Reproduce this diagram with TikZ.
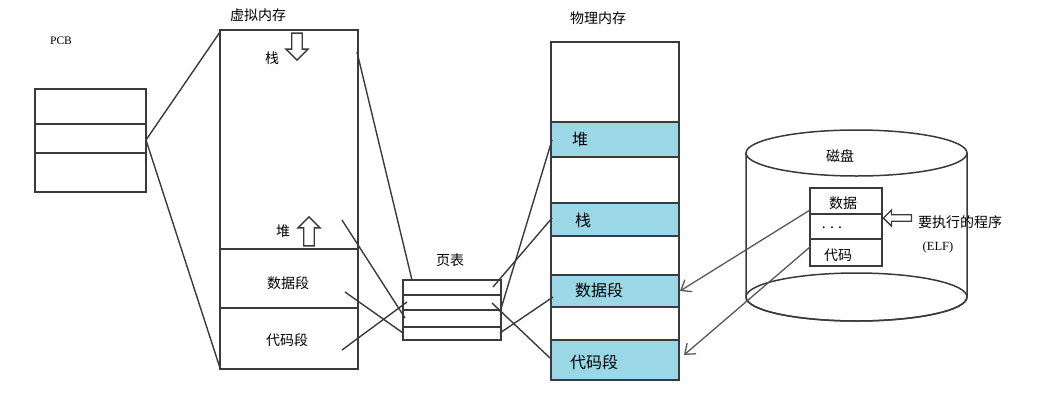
\documentclass[tikz,border=0pt]{standalone}
\usepackage{fontspec}
\setmainfont{Liberation Serif}
\newfontfamily\cjk{Noto Sans CJK SC}
\usetikzlibrary{shapes.arrows,arrows.meta}
\definecolor{seg}{HTML}{9AD8E8}
\definecolor{ink}{HTML}{3A3A3A}
\tikzset{
  box/.style={draw=ink, line width=1.5pt},
  div/.style={draw=ink, line width=1.5pt},
  link/.style={draw=ink, line width=1.4pt},
  lbl/.style={font=\cjk\fontsize{14}{16}\selectfont, inner sep=0pt},
  blbl/.style={font=\cjk\fontsize{16}{18}\selectfont, inner sep=0pt},
  hollow/.style={single arrow, draw=ink, line width=1.3pt, fill=white, inner sep=3pt, minimum width=22pt, single arrow head extend=4pt},
  load/.style={draw=ink!85, line width=1.3pt, -{Straight Barb[length=9pt,width=14pt]}}
}
\begin{document}
\begin{tikzpicture}[x=1pt,y=-1pt]
\useasboundingbox (0,0) rectangle (1044,408);
% PCB
\node[font=\fontsize{11.5}{13}\selectfont, inner sep=0pt] (pcbl) at (61,41) {PCB};
\draw[box] (35,89) rectangle (146,192);
\draw[div] (35,124) -- (146,124);
\draw[div] (35,153) -- (146,153);
\coordinate (pcb) at (146,140);
% virtual memory
\node[lbl] (vml) at (258,15) {虚拟内存};
\draw[box] (220,30) rectangle (358,369);
\coordinate (vtl) at (220,32);
\coordinate (vbl) at (220,368);
\draw[div] (220,249) -- (358,249);
\draw[div] (220,308) -- (358,308);
\node[lbl] (vstack) at (272,58) {栈};
\node[hollow, rotate=-90, minimum height=27pt] (adown) at (297,44) {};
\node[lbl] (vheap) at (283,231) {堆};
\node[hollow, rotate=90, minimum height=29pt] (aup) at (309,234) {};
\node[lbl] (vdata) at (288,283) {数据段};
\node[lbl] (vcode) at (287,340) {代码段};
\draw[link] (pcb) -- (vtl);
\draw[link] (pcb) -- (vbl);
% page table
\node[lbl] (ptl) at (450,260) {页表};
\draw[box] (403,280) rectangle (501,340);
\draw[div] (403,295) -- (501,295);
\draw[div] (403,310) -- (501,310);
\draw[div] (403,327) -- (501,327);
% physical memory
\node[lbl] (pml) at (598,18) {物理内存};
\fill[seg] (551,122) rectangle (679,157);
\fill[seg] (551,203) rectangle (679,236);
\fill[seg] (551,275) rectangle (679,307);
\fill[seg] (551,340) rectangle (679,380);
\draw[box] (551,42) rectangle (679,380);
\foreach \yy in {122,157,203,236,275,307,340} \draw[div] (551,\yy) -- (679,\yy);
\node[blbl] (pheap) at (580,139) {堆};
\node[blbl] (pstack) at (583,220) {栈};
\node[blbl] (pdata) at (599,290) {数据段};
\node[blbl] (pcode) at (594,362) {代码段};
% link coordinates
\coordinate (s1) at (357,52);
\coordinate (s2) at (342,220);
\coordinate (s3) at (345,292);
\coordinate (s4) at (342,350);
\coordinate (p1) at (412,280);
\coordinate (p3) at (405,318);
\coordinate (p4) at (403,333);
\coordinate (p2) at (407,302);
\coordinate (q1) at (493,287);
\coordinate (q3) at (500,312);
\coordinate (q4) at (500,333);
\coordinate (q2) at (492,303);
\coordinate (m1) at (552,218);
\coordinate (m3) at (552,140);
\coordinate (m4) at (553,297);
\coordinate (m2) at (550,358);
\draw[link] (s1) -- (p1);
\draw[link] (s2) -- (p3);
\draw[link] (s3) -- (p4);
\draw[link] (s4) -- (p2);
\draw[link] (q1) -- (m1);
\draw[link] (q3) -- (m3);
\draw[link] (q4) -- (m4);
\draw[link] (q2) -- (m2);
% disk
\draw[box, fill=white] (746,153) -- (746,297) arc[start angle=180, end angle=360, x radius=110.5pt, y radius=24pt] -- (967,153);
\draw[box] (856.5,297) ellipse[x radius=110.5pt, y radius=24pt];
\draw[box, fill=white] (856.5,153) ellipse[x radius=110.5pt, y radius=23pt];
\node[lbl] (diskl) at (840,156) {磁盘};
\draw[box, fill=white] (810,188) rectangle (882,266);
\draw[div] (810,214) -- (882,214);
\draw[div] (810,239) -- (882,239);
\node[lbl] (ddata) at (843,203) {数据};
\node[lbl] (ddots) at (832,228) {. . .};
\node[lbl] (dcode) at (838,255) {代码};
\node[hollow, rotate=180, minimum height=28pt, minimum width=16pt, inner sep=2pt] (aleft) at (899,218) {};
\node[lbl, anchor=west] (exe) at (918,222) {要执行的程序};
\node[font=\fontsize{12.5}{14}\selectfont, inner sep=0pt] (elf) at (938,247) {(ELF)};
\coordinate (d1) at (810,210);
\coordinate (d2) at (810,247);
\coordinate (t1) at (680,291);
\coordinate (t2) at (684,355);
\draw[load] (d1) -- (t1);
\draw[load] (d2) -- (t2);
\end{tikzpicture}
\end{document}
